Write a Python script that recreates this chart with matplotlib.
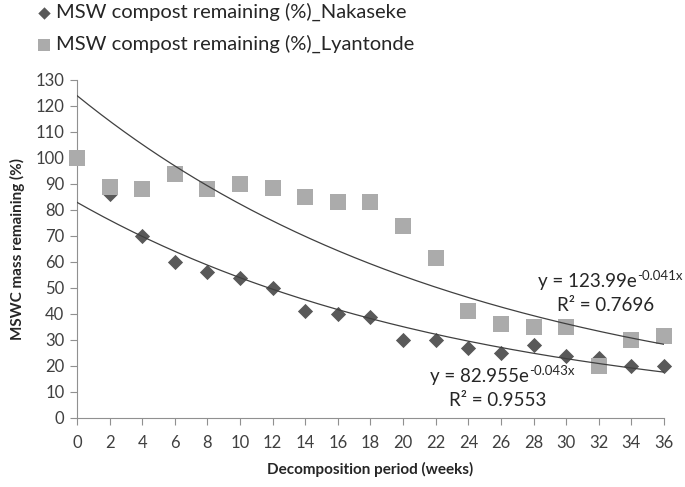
import numpy as np
import matplotlib
matplotlib.use("Agg")
import matplotlib.pyplot as plt

plt.rcParams['font.family'] = ['Lato', 'DejaVu Sans']
plt.rcParams['mathtext.default'] = 'regular'

weeks = [0, 2, 4, 6, 8, 10, 12, 14, 16, 18, 20, 22, 24, 26, 28, 30, 32, 34, 36]
nakaseke = [100, 86, 70, 60, 56, 54, 50, 41, 40, 39, 30, 30, 27, 25, 28, 24, 23, 20, 20]
lyantonde = [100, 89, 88, 94, 88, 90, 88.5, 85, 83, 83, 74, 61.5, 41, 36, 35, 35, 20, 30, 31.5]
fit_nak = (82.955, -0.043)
fit_lya = (123.99, -0.041)
eq_nak = ("y = 82.955e", "-0.043x", "R² = 0.9553")
eq_lya = ("y = 123.99e", "-0.041x", "R² = 0.7696")
labels = ["MSW compost remaining (%)_Nakaseke", "MSW compost remaining (%)_Lyantonde"]

fig = plt.figure(figsize=(6.85, 4.87), dpi=100)
ax = fig.add_axes([77/685, 1-418/487, (664-77)/685, (418-80)/487])

h1 = ax.scatter(weeks, nakaseke, marker='D', s=60, color='#595959', zorder=3,
                label=labels[0], linewidths=0, clip_on=False)
h2 = ax.scatter(weeks, lyantonde, marker='s', s=118, color='#ABABAB', zorder=4,
                label=labels[1], linewidths=0, clip_on=False)

xx = np.linspace(0, 36, 200)
ax.plot(xx, fit_nak[0]*np.exp(fit_nak[1]*xx), color='#404040', lw=0.9, zorder=5)
ax.plot(xx, fit_lya[0]*np.exp(fit_lya[1]*xx), color='#404040', lw=0.9, zorder=5)

ax.set_xlim(0, 36)
ax.set_ylim(0, 130)
ax.set_xticks(range(0, 37, 2))
ax.set_yticks(range(0, 131, 10))
for s in ['top', 'right']:
    ax.spines[s].set_visible(False)
for s in ['left', 'bottom']:
    ax.spines[s].set_color('#909090')
ax.tick_params(axis='both', direction='out', length=5, color='#909090', labelsize=12, labelcolor='#404040')
ax.tick_params(axis='x', pad=7)
ax.tick_params(axis='y', pad=4)
ax.set_xlabel("Decomposition period (weeks)", fontsize=11, fontweight='bold', color='#262626', labelpad=8)
ax.set_ylabel("MSWC mass remaining (%)", fontsize=11, fontweight='bold', color='#262626', labelpad=8)

def equation(x_left, y, base, sup, x_r2, y_r2, r2):
    t = ax.text(x_left, y, base, fontsize=13.5, color='#262626', ha='left', va='baseline')
    ax.annotate(sup, xy=(1.0, 0.0), xycoords=t, xytext=(0.5, 7), textcoords='offset points',
                fontsize=9.5, color='#262626', ha='left', va='baseline')
    ax.text(x_r2, y_r2, r2, fontsize=13.5, color='#262626', ha='center', va='baseline')

equation(28.27, 50.3, eq_lya[0], eq_lya[1], 32.44, 41.2, eq_lya[2])
equation(21.65, 13.8, eq_nak[0], eq_nak[1], 25.8, 4.6, eq_nak[2])

leg = fig.legend(handles=[h1, h2], labels=labels, loc='upper left', bbox_to_anchor=(28/685, 1.015),
                 frameon=False, fontsize=14.5, handlelength=0.6, handletextpad=0.3, labelspacing=0.68,
                 borderaxespad=0.1)
for t in leg.get_texts():
    t.set_color('#262626')
leg.legend_handles[0].set_sizes([40])
leg.legend_handles[1].set_sizes([70])

fig.savefig("out.png", dpi=100)
